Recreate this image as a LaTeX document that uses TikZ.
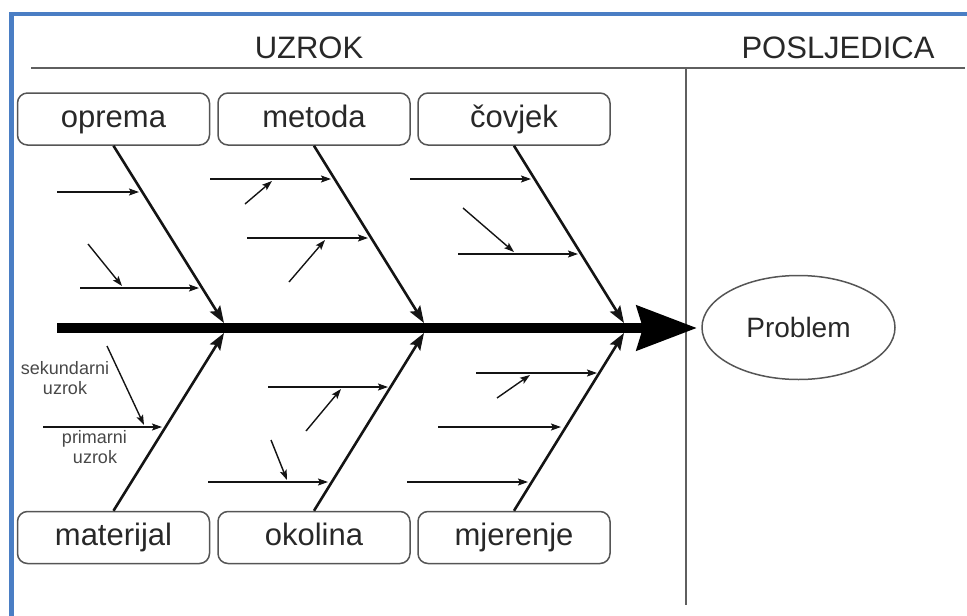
\documentclass[tikz,border=0pt]{standalone}
\usepackage{fontspec}
\setmainfont{Liberation Sans}
\usetikzlibrary{arrows.meta,shapes.geometric}
\definecolor{frameblue}{RGB}{74,126,196}
\definecolor{boxgray}{RGB}{85,85,85}
\definecolor{txt}{RGB}{40,40,40}
\definecolor{ink}{RGB}{20,20,20}
\definecolor{rulegray}{RGB}{95,95,95}
\begin{document}
\begin{tikzpicture}[x=1pt,y=-1pt,
  catbox/.style={draw=boxgray, line width=1.5pt, rounded corners=10pt,
    minimum width=192pt, minimum height=52pt, inner sep=0pt,
    text height=22pt, text depth=6pt, text=txt,
    font=\fontsize{31}{31}\selectfont},
  title/.style={anchor=base, text=txt, inner sep=0pt, font=\fontsize{31}{31}\selectfont},
  smalltxt/.style={anchor=base, text=txt!85!white, inner sep=0pt, font=\fontsize{18}{18}\selectfont},
  bone/.style={draw=ink, line width=2.6pt, -{Stealth[length=17pt,width=12pt,inset=3pt]}},
  primary/.style={draw=ink, line width=1.7pt, -{Stealth[length=10pt,width=7pt,inset=2pt]}},
  secondary/.style={draw=ink, line width=1.4pt, -{Stealth[length=10pt,width=7pt,inset=2pt]}},
  spine/.style={draw=black, line width=10pt, -{Stealth[length=60pt,width=44pt,inset=6pt]}},
  rule/.style={draw=rulegray, line width=2pt}]
\useasboundingbox (0,0) rectangle (967,616);

% blue frame
\draw[frameblue, line width=4.5pt] (11.5,620) -- (11.5,14) -- (970,14);

% titles and rules
\node[title] (uzrok) at (309,58) {UZROK};
\node[title] (posljedica) at (838,58) {POSLJEDICA};
\coordinate (hl) at (31,68);
\coordinate (hr) at (965,68);
\coordinate (vt) at (686,68);
\coordinate (vb) at (686,605);
\draw[rule] (hl) -- (hr);
\draw[rule] (vt) -- (vb);

% category boxes
\node[catbox] (oprema) at (113.5,119) {oprema};
\node[catbox] (metoda) at (314,119) {metoda};
\node[catbox] (covjek) at (514,119) {čovjek};
\node[catbox] (materijal) at (113.5,537.5) {materijal};
\node[catbox] (okolina) at (314,537.5) {okolina};
\node[catbox] (mjerenje) at (514,537.5) {mjerenje};

% problem
\node[ellipse, draw=boxgray, line width=1.5pt, minimum width=193pt, minimum height=104pt,
  inner sep=0pt, text height=21pt, text depth=2pt, text=txt,
  font=\fontsize{28}{28}\selectfont] (problem) at (798.5,327.5) {Problem};

% junctions on spine
\coordinate (j1t) at (224,323); \coordinate (j1b) at (224,333);
\coordinate (j2t) at (424,323); \coordinate (j2b) at (424,333);
\coordinate (j3t) at (624,323); \coordinate (j3b) at (624,333);
\coordinate (tail) at (57,328);
\coordinate (head) at (697,328);

% bones
\draw[bone] (oprema.south) -- (j1t);
\draw[bone] (metoda.south) -- (j2t);
\draw[bone] (covjek.south) -- (j3t);
\draw[bone] (materijal.north) -- (j1b);
\draw[bone] (okolina.north) -- (j2b);
\draw[bone] (mjerenje.north) -- (j3b);

% spine
\draw[spine] (tail) -- (head);

% oprema causes
\coordinate (o1s) at (57,192);  \coordinate (o1e) at (139,192);
\coordinate (o2s) at (80,288);  \coordinate (o2e) at (199,288);
\coordinate (o3s) at (88,244);  \coordinate (o3e) at (122,286);
\draw[primary] (o1s) -- (o1e);
\draw[primary] (o2s) -- (o2e);
\draw[secondary] (o3s) -- (o3e);

% metoda causes
\coordinate (m1s) at (210,179); \coordinate (m1e) at (331,179);
\coordinate (m2s) at (245,204); \coordinate (m2e) at (272,181);
\coordinate (m3s) at (247,238); \coordinate (m3e) at (368,238);
\coordinate (m4s) at (289,282); \coordinate (m4e) at (325,240);
\draw[primary] (m1s) -- (m1e);
\draw[secondary] (m2s) -- (m2e);
\draw[primary] (m3s) -- (m3e);
\draw[secondary] (m4s) -- (m4e);

% covjek causes
\coordinate (c1s) at (410,179); \coordinate (c1e) at (531,179);
\coordinate (c2s) at (463,208); \coordinate (c2e) at (514,252);
\coordinate (c3s) at (458,254); \coordinate (c3e) at (578,254);
\draw[primary] (c1s) -- (c1e);
\draw[secondary] (c2s) -- (c2e);
\draw[primary] (c3s) -- (c3e);

% materijal causes
\coordinate (t1s) at (43,427);  \coordinate (t1e) at (162,427);
\coordinate (t2s) at (107,346); \coordinate (t2e) at (144,425);
\draw[primary] (t1s) -- (t1e);
\draw[secondary] (t2s) -- (t2e);
\node[smalltxt] (sek1) at (65,374) {sekundarni};
\node[smalltxt] (sek2) at (65,394) {uzrok};
\node[smalltxt] (pri1) at (94.5,443) {primarni};
\node[smalltxt] (pri2) at (95,463) {uzrok};

% okolina causes
\coordinate (k1s) at (268,387); \coordinate (k1e) at (388,387);
\coordinate (k2s) at (306,431); \coordinate (k2e) at (341,389);
\coordinate (k3s) at (208,482); \coordinate (k3e) at (328,482);
\coordinate (k4s) at (271,440); \coordinate (k4e) at (287,480);
\draw[primary] (k1s) -- (k1e);
\draw[secondary] (k2s) -- (k2e);
\draw[primary] (k3s) -- (k3e);
\draw[secondary] (k4s) -- (k4e);

% mjerenje causes
\coordinate (r1s) at (476,373); \coordinate (r1e) at (597,373);
\coordinate (r2s) at (497,398); \coordinate (r2e) at (530,375);
\coordinate (r3s) at (438,427); \coordinate (r3e) at (561,427);
\coordinate (r4s) at (407,482); \coordinate (r4e) at (528,482);
\draw[primary] (r1s) -- (r1e);
\draw[secondary] (r2s) -- (r2e);
\draw[primary] (r3s) -- (r3e);
\draw[primary] (r4s) -- (r4e);
\end{tikzpicture}
\end{document}
